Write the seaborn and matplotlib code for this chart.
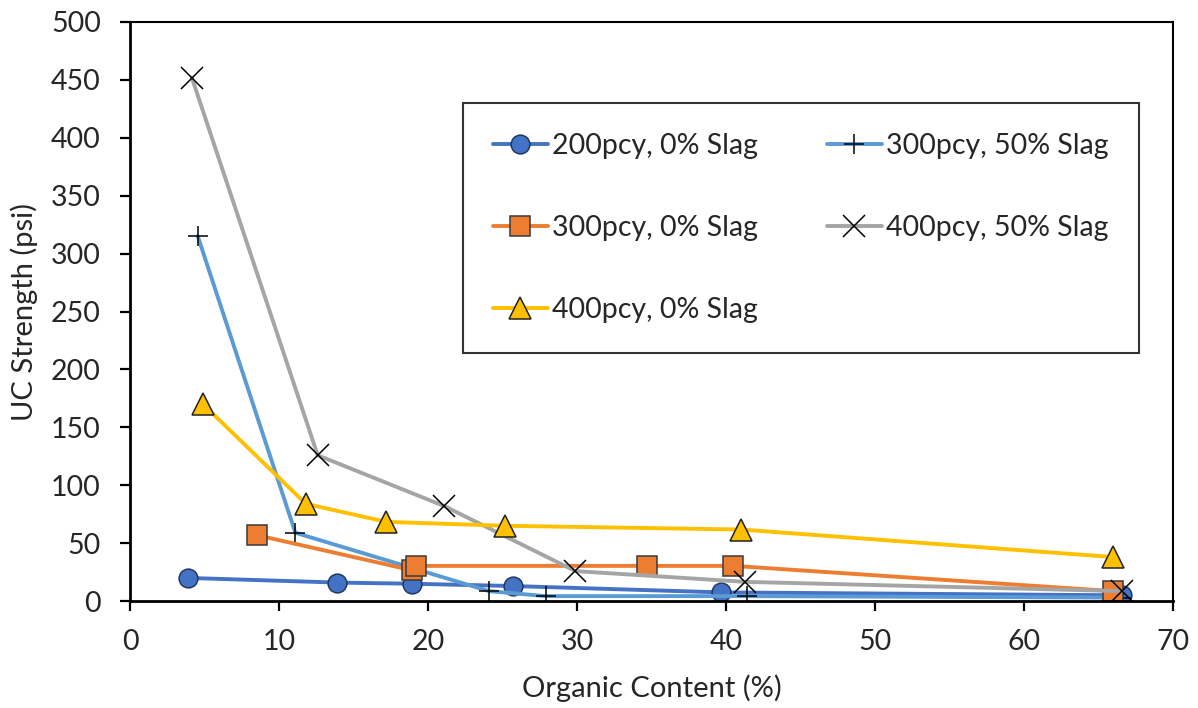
import pandas as pd
import matplotlib
matplotlib.use("Agg")
import matplotlib.pyplot as plt
import seaborn as sns

# Series values
labels = ["200pcy, 0% Slag", "300pcy, 50% Slag", "300pcy, 0% Slag",
          "400pcy, 50% Slag", "400pcy, 0% Slag"]

x_200_0 = [3.9, 13.9, 18.9, 25.7, 39.7, 66.6]
y_200_0 = [20, 16, 15, 13, 7.5, 5]

x_300_50 = [4.55, 11.1, 24.1, 27.9, 41.4, 66.5]
y_300_50 = [315, 59, 8.6, 4.3, 4.3, 3]

x_300_0 = [8.5, 18.9, 19.2, 34.7, 40.5, 66.0]
y_300_0 = [57, 26.7, 30.4, 30.4, 30.4, 8.6]

x_400_50 = [4.15, 12.6, 21.1, 29.9, 41.3, 66.6]
y_400_50 = [452, 125.9, 82, 25.9, 16.6, 8.6]

x_400_0 = [4.9, 11.8, 17.2, 25.2, 41.0, 66.0]
y_400_0 = [170, 84, 68.4, 65, 61.8, 38]

xs = [x_200_0, x_300_50, x_300_0, x_400_50, x_400_0]
ys = [y_200_0, y_300_50, y_300_0, y_400_50, y_400_0]
colors = ["#4472C4", "#5B9BD5", "#ED7D31", "#A5A5A5", "#FFC000"]
markers = ["o", "+", "s", "x", "^"]
msizes = [13.5, 15, 15, 15.5, 15.5]
medges = ["#1F3864", "black", "#3A3A3A", "black", "#222222"]

sns.set_style("white")
plt.rcParams["font.family"] = ["Lato", "DejaVu Sans"]

fig = plt.figure(figsize=(11.98, 7.08), dpi=100)
ax = fig.add_axes([0.1085, 0.151, 0.8705, 0.818])

for i in range(5):
    df = pd.DataFrame({"x": xs[i], "y": ys[i]})
    sns.lineplot(data=df, x="x", y="y", ax=ax, color=colors[i],
                 marker=markers[i], markersize=msizes[i],
                 markeredgecolor=medges[i], markeredgewidth=1.1,
                 linewidth=2.8, label=labels[i], estimator=None, sort=False)

ax.set_xlim(0, 70)
ax.set_ylim(0, 500)
ax.set_xticks(range(0, 71, 10))
ax.set_yticks(range(0, 501, 50))
ax.set_xlabel("Organic Content (%)", fontsize=21, labelpad=14)
ax.set_ylabel("UC Strength (psi)", fontsize=21, labelpad=9)
ax.tick_params(axis="both", labelsize=20.5, direction="out", length=7,
               width=1.6, color="black", bottom=True, left=True)
ax.tick_params(axis="y", pad=14)
ax.tick_params(axis="x", pad=13)

for side in ["left", "bottom"]:
    ax.spines[side].set_linewidth(2)
    ax.spines[side].set_color("black")
for side in ["top", "right"]:
    ax.spines[side].set_linewidth(1.5)
    ax.spines[side].set_color("black")

# legend: Excel row-wise order -> matplotlib column-major order
handles, lbls = ax.get_legend_handles_labels()
order = [0, 2, 4, 1, 3]
leg = ax.legend([handles[i] for i in order], [lbls[i] for i in order],
                ncol=2, loc="upper left", bbox_to_anchor=(0.319, 0.86),
                fontsize=20.5, frameon=True, fancybox=False, edgecolor="black",
                handlelength=1.95, handletextpad=0.15, labelspacing=1.97,
                columnspacing=2.4, borderpad=1.05, borderaxespad=0)
leg.get_frame().set_linewidth(1.5)

fig.savefig("out.png", dpi=100)
